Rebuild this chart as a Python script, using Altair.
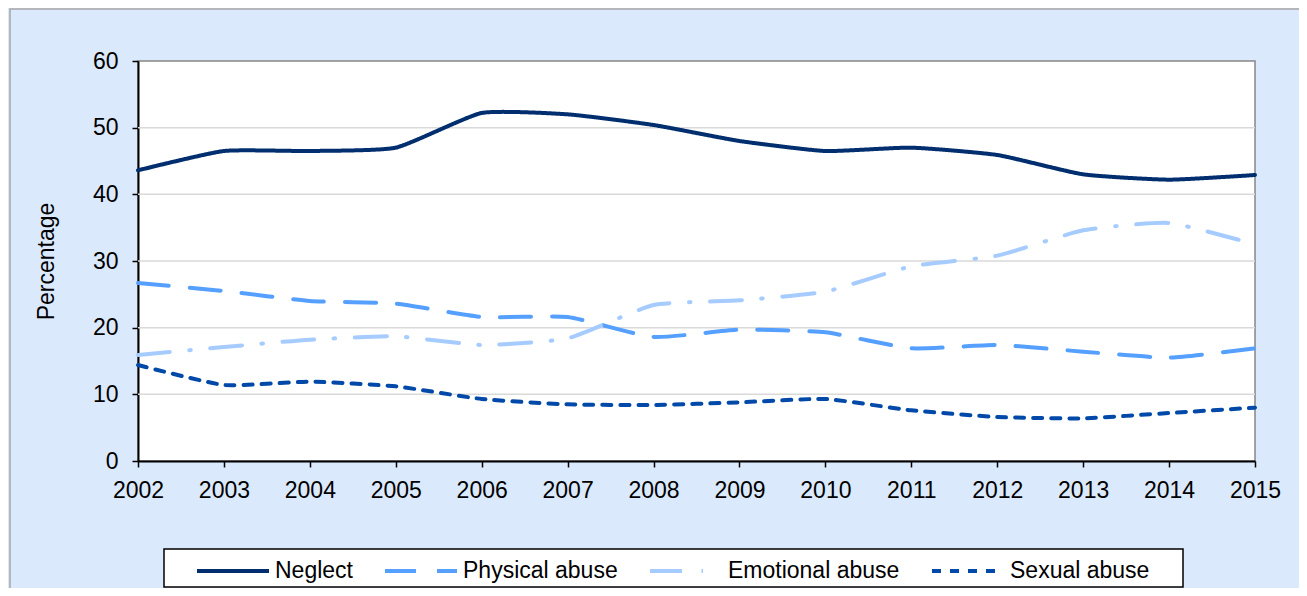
import altair as alt
import pandas as pd

years = [2002, 2003, 2004, 2005, 2006, 2007, 2008, 2009, 2010, 2011, 2012, 2013, 2014, 2015]
neglect = [43.6, 46.5, 46.5, 47.0, 52.2, 52.0, 50.4, 48.0, 46.5, 47.0, 45.9, 43.0, 42.2, 42.9]
physical = [26.7, 25.5, 24.0, 23.6, 21.6, 21.6, 18.6, 19.7, 19.3, 16.9, 17.4, 16.4, 15.5, 16.9]
emotional = [15.9, 17.1, 18.2, 18.7, 17.4, 18.4, 23.4, 24.1, 25.4, 29.2, 30.8, 34.6, 35.7, 32.5]
sexual = [14.4, 11.4, 11.9, 11.2, 9.3, 8.5, 8.4, 8.8, 9.3, 7.6, 6.6, 6.4, 7.2, 8.0]

series = ["Neglect", "Physical abuse", "Emotional abuse", "Sexual abuse"]
colors = ["#002e6e", "#559fff", "#a6cbff", "#0049a8"]
dashes = [[1, 0], [31, 21], [32, 19.5, 1.5, 19.5], [9, 9]]
y_ticks = [0, 10, 20, 30, 40, 50, 60]
grid_vals = [10, 20, 30, 40, 50]

rows = []
for name, vals in zip(series, [neglect, physical, emotional, sexual]):
    for yr, v in zip(years, vals):
        rows.append({"year": yr, "series": name, "value": v})
df = pd.DataFrame(rows)

W, H = 1117, 400
FONT = "Liberation Sans"

legend = alt.Legend(
    orient="none", legendX=57, legendY=472, direction="horizontal",
    symbolType="stroke", symbolSize=5184, symbolStrokeWidth=4,
    labelFontSize=23, labelFont=FONT, labelColor="black", labelOffset=4,
    columnPadding=24, padding=0, zindex=1, title=None, labelLimit=400,
)

x_enc = alt.X("year:Q", scale=alt.Scale(domain=[2002, 2015], nice=False),
              axis=alt.Axis(values=years, format="d", title=None, grid=False,
                            labelFontSize=23, labelFont=FONT, labelColor="black",
                            tickSize=6, tickColor="black", tickWidth=1.5,
                            domainColor="black", domainWidth=2, labelPadding=12,
                            labelFlush=False))
y_scale = alt.Scale(domain=[0, 60], nice=False)
y_axis = alt.Axis(values=y_ticks, title="Percentage", grid=False,
                  labelFontSize=23, labelFont=FONT, labelColor="black",
                  tickSize=6, tickColor="black", tickWidth=1.5,
                  domainColor="black", domainWidth=2, labelPadding=14,
                  titleFontSize=23, titleFont=FONT, titleFontWeight="normal",
                  titleColor="black", titleX=-92, titleY=200, titleAngle=270,
                  titleAlign="center", titleBaseline="middle")

frame = alt.Chart(alt.Data(values=[{}])).mark_rect(
    fill="transparent", stroke="#a6a6a6", strokeWidth=1.5
).encode(x=alt.value(-128), x2=alt.value(1200), y=alt.value(-52), y2=alt.value(560))

legend_box = alt.Chart(alt.Data(values=[{}])).mark_rect(
    fill="white", stroke="black", strokeWidth=1.5
).encode(x=alt.value(26), x2=alt.value(1045), y=alt.value(488), y2=alt.value(526))

grid = alt.Chart(pd.DataFrame({"value": grid_vals})).mark_rule(
    color="#d9d9d9", strokeWidth=1.5
).encode(y=alt.Y("value:Q", scale=y_scale, axis=y_axis))

lines = alt.Chart(df).mark_line(strokeWidth=4, strokeCap="round",
                                interpolate="cardinal", tension=0.5).encode(
    x=x_enc,
    y=alt.Y("value:Q", scale=y_scale, axis=y_axis),
    color=alt.Color("series:N", scale=alt.Scale(domain=series, range=colors), legend=legend),
    strokeDash=alt.StrokeDash("series:N", scale=alt.Scale(domain=series, range=dashes), legend=legend),
)

chart = alt.layer(frame, grid, legend_box, lines).properties(
    width=W, height=H,
    autosize=alt.AutoSizeParams(type="none"),
    padding={"left": 130, "top": 53, "right": 44, "bottom": 127},
    background="#dbe9fc",
).configure_view(fill="white", stroke="#868686", strokeWidth=1.5)

chart.save("out.html", embed_options={"renderer": "svg", "actions": False})
